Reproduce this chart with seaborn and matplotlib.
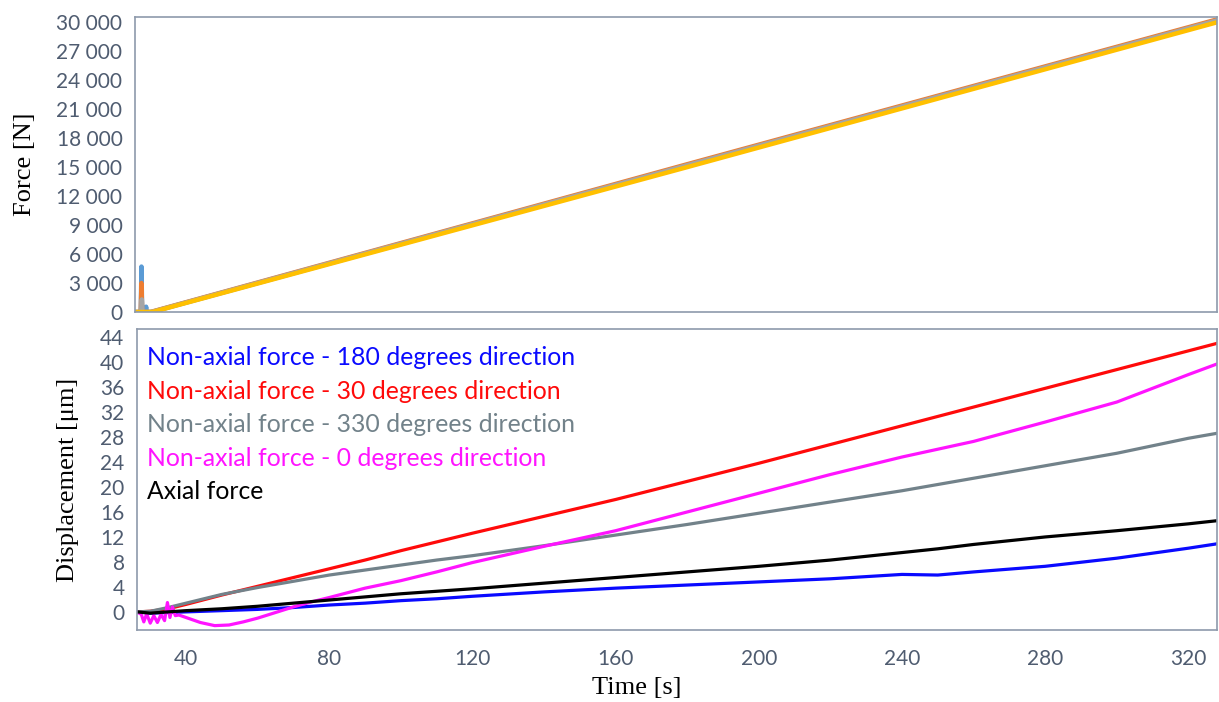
import numpy as np
import pandas as pd
import matplotlib
matplotlib.use('Agg')
import matplotlib.pyplot as plt
from matplotlib.ticker import FuncFormatter
from matplotlib.lines import Line2D
import seaborn as sns

# Forza applicata (pannello superiore)
force_names = ['F1', 'F2', 'F3', 'F4']
force_colors = ['#5b9bd5', '#ed7d31', '#a5a5a5', '#ffc000']
t_f1 = [26.3, 27.9, 28.1, 28.3, 29.2, 29.4, 29.6, 31.0, 180.0, 328.0]
f_f1 = [0, 0, 4700, 0, 0, 550, 0, 0, 15100, 30100]
t_f2 = [26.3, 27.9, 28.1, 28.3, 30.6, 180.0, 328.0]
f_f2 = [0, 0, 3000, 0, 0, 15250, 30250]
t_f3 = [26.3, 28.0, 28.2, 28.4, 30.8, 180.0, 328.0]
f_f3 = [0, 0, 1300, 0, 0, 15150, 30150]
t_f4 = [26.3, 31.2, 180.0, 328.0]
f_f4 = [0, 0, 14950, 29950]

# Spostamenti (pannello inferiore)
disp_labels = ['Non-axial force - 180 degrees direction',
               'Non-axial force - 30 degrees direction',
               'Non-axial force - 330 degrees direction',
               'Non-axial force - 0 degrees direction',
               'Axial force']
disp_colors = ['#0a0aff', '#ff0a0a', '#72828a', '#ff14ff', '#000000']
t_disp = [26.3, 30, 35, 40, 50, 60, 70, 80, 90, 100, 110, 120, 140, 160,
          180, 200, 220, 240, 250, 260, 280, 300, 320, 328]
d_180 = [0, -0.2, -0.1, 0.0, 0.2, 0.4, 0.7, 1.1, 1.4, 1.8, 2.1, 2.5, 3.2, 3.8,
         4.3, 4.8, 5.3, 6.0, 5.9, 6.4, 7.3, 8.6, 10.2, 10.9]
d_30 = [0, 0.1, 0.5, 1.2, 2.7, 4.1, 5.5, 6.9, 8.3, 9.8, 11.2, 12.6, 15.3, 18.0,
        20.9, 23.8, 26.8, 29.8, 31.3, 32.8, 35.8, 38.8, 41.8, 43.0]
d_330 = [0, 0.1, 0.7, 1.4, 2.8, 3.9, 4.9, 5.9, 6.7, 7.5, 8.3, 9.0, 10.6, 12.3,
         14.0, 15.8, 17.6, 19.4, 20.4, 21.4, 23.4, 25.4, 27.8, 28.6]
d_axial = [0, -0.2, 0.0, 0.2, 0.5, 0.9, 1.4, 1.9, 2.4, 2.9, 3.3, 3.7, 4.6, 5.5,
           6.4, 7.3, 8.3, 9.5, 10.1, 10.8, 12.0, 13.0, 14.1, 14.6]
t_0deg = [26.3, 27.5, 28.2, 29, 30, 31, 32, 33, 34, 34.8, 35.5, 36.2, 37, 38,
          40, 44, 48, 52, 56, 60, 65, 70, 75, 80, 90, 100, 110, 120, 140, 160,
          180, 200, 220, 240, 260, 280, 300, 320, 328]
d_0deg = [0, -0.4, -1.6, -0.3, -1.8, -0.6, -1.7, -0.4, -1.4, 1.5, -0.9, 0.8,
          -0.6, -0.5, -0.9, -1.7, -2.2, -2.1, -1.6, -1.0, -0.1, 0.8, 1.6, 2.3,
          3.8, 5.0, 6.4, 7.9, 10.5, 13.0, 16.0, 19.0, 22.0, 24.8, 27.3, 30.4,
          33.6, 38.0, 39.7]

force_ticks = np.arange(0, 30001, 3000)
disp_ticks = np.arange(0, 45, 4)
time_ticks = np.arange(40, 321, 40)

# Tabelle in formato lungo
df_force = pd.concat([
    pd.DataFrame({'t': t, 'F': f, 'serie': n})
    for t, f, n in zip([t_f1, t_f2, t_f3, t_f4], [f_f1, f_f2, f_f3, f_f4], force_names)
])
df_disp = pd.concat([
    pd.DataFrame({'t': t, 'd': d, 'serie': n})
    for t, d, n in zip([t_disp, t_disp, t_disp, t_0deg, t_disp],
                       [d_180, d_30, d_330, d_0deg, d_axial], disp_labels)
])

sns.set_theme(style='white')
plt.rcParams['font.family'] = ['Lato', 'DejaVu Sans']

tick_col = '#4f5c70'
spine_col = '#8e9aab'

fig = plt.figure(figsize=(12.19, 7.02), dpi=100)
W, H = 1219, 702
ax1 = fig.add_axes([135 / W, 1 - 312 / H, (1217 - 135) / W, (312 - 17) / H])
ax2 = fig.add_axes([137 / W, 1 - 630 / H, (1217 - 137) / W, (630 - 329) / H])

sns.lineplot(data=df_force, x='t', y='F', hue='serie', palette=force_colors,
             hue_order=force_names, estimator=None, sort=False, linewidth=3.2,
             legend=False, ax=ax1)
sns.lineplot(data=df_disp, x='t', y='d', hue='serie', palette=disp_colors,
             hue_order=disp_labels, estimator=None, sort=False, linewidth=2.3,
             legend=False, ax=ax2)

for ax in (ax1, ax2):
    ax.set_xlim(26.3, 328)
    ax.set_xticks(time_ticks)
    for s in ax.spines.values():
        s.set_color(spine_col)
        s.set_linewidth(1.2)
    ax.tick_params(axis='both', direction='in', length=5, width=1,
                   color='#c3cad5', labelsize=15, labelcolor=tick_col)
    ax.tick_params(axis='y', pad=9)
    ax.tick_params(axis='x', pad=14)

ax1.set_ylim(0, 30500)
ax1.set_yticks(force_ticks)
ax1.yaxis.set_major_formatter(FuncFormatter(lambda v, p: f'{int(v):,}'.replace(',', ' ')))
ax1.tick_params(axis='x', labelbottom=False)
ax1.set_xlabel('')
ax1.set_ylabel('Force [N]', family='Liberation Serif', fontsize=19, color='black', labelpad=15)

ax2.set_ylim(-2.9, 45.3)
ax2.set_yticks(disp_ticks)
ax2.set_ylabel('Displacement [\u03bcm]', family='Liberation Serif', fontsize=19,
               color='black', labelpad=15)
ax2.set_xlabel('Time [s]', family='Liberation Serif', fontsize=19, color='black')
ax2.xaxis.set_label_coords((637 - 137) / (1217 - 137), -0.155)

# Legenda solo testo, colorata
handles = [Line2D([], [], color=c) for c in disp_colors]
leg = ax2.legend(handles, disp_labels, loc='upper left', bbox_to_anchor=(0.0, 0.975),
                 frameon=False, handlelength=0, handletextpad=0, labelcolor=disp_colors,
                 fontsize=17.8, labelspacing=0.42, borderaxespad=0)
for h in leg.legend_handles:
    h.set_visible(False)

fig.savefig('out.png', dpi=100)
